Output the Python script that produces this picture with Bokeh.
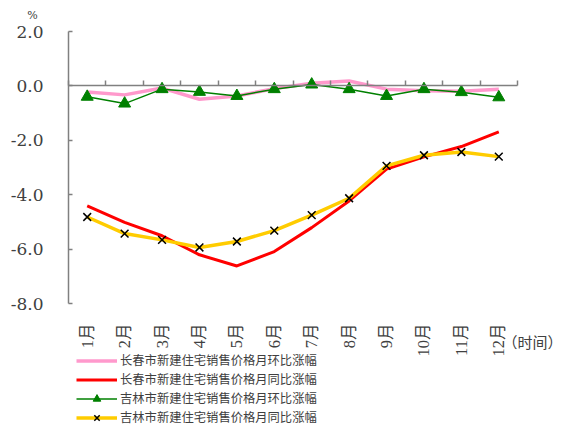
import math
from bokeh.plotting import figure
from bokeh.models import Range1d, LinearAxis, FixedTicker, Legend, LegendItem, Label
from bokeh.embed import file_html
from bokeh.resources import INLINE

months = ["1月", "2月", "3月", "4月", "5月", "6月", "7月", "8月", "9月", "10月", "11月", "12月"]
cc_mom = [-0.22, -0.33, -0.08, -0.49, -0.37, -0.10, 0.10, 0.18, -0.12, -0.18, -0.20, -0.12]
cc_yoy = [-4.41, -5.02, -5.51, -6.21, -6.62, -6.09, -5.21, -4.23, -3.06, -2.61, -2.23, -1.69]
jl_mom = [-0.40, -0.65, -0.12, -0.22, -0.37, -0.12, 0.05, -0.12, -0.37, -0.12, -0.23, -0.42]
jl_yoy = [-4.82, -5.43, -5.66, -5.94, -5.72, -5.32, -4.75, -4.13, -2.94, -2.55, -2.43, -2.60]
y_ticks = [2, 0, -2, -4, -6, -8]
y_labels = ["2.0", "0.0", "-2.0", "-4.0", "-6.0", "-8.0"]
series_names = ["长春市新建住宅销售价格月环比涨幅", "长春市新建住宅销售价格月同比涨幅",
                "吉林市新建住宅销售价格月环比涨幅", "吉林市新建住宅销售价格月同比涨幅"]

x = [i + 0.5 for i in range(len(months))]
TXT = "#404040"
AX = "#808080"

W, H = 563, 425
PX_X = 449 / 12.0   # pixels per month
PX_Y = 272 / 10.0   # pixels per percentage point
x_range = Range1d(-68 / PX_X, 12 + 46 / PX_X)
y_range = Range1d(-8 - 122 / PX_Y, 2 + 31 / PX_Y)

p = figure(width=W, height=H, x_range=x_range, y_range=y_range,
           output_backend="svg", toolbar_location=None,
           x_axis_location=None, y_axis_location=None,
           min_border=0, min_border_left=0, min_border_right=0,
           min_border_top=0, min_border_bottom=0)
p.grid.visible = False
p.outline_line_color = None
p.background_fill_color = "white"
p.border_fill_color = "white"

# y axis
ya = LinearAxis(fixed_location=0, bounds=(-8, 2), ticker=FixedTicker(ticks=y_ticks))
ya.major_label_overrides = {t: l for t, l in zip(y_ticks, y_labels)}
ya.major_tick_in = 4
ya.major_tick_out = 0
ya.minor_tick_line_color = None
ya.axis_line_color = AX
ya.axis_line_width = 1.5
ya.major_tick_line_color = AX
ya.major_tick_line_width = 1.5
ya.major_label_standoff = 25
ya.major_label_text_font = "DejaVu Serif"
ya.major_label_text_font_size = "17px"
ya.major_label_text_color = TXT
p.add_layout(ya, "left")

# zero-line axis with category boundary ticks (no labels)
za = LinearAxis(fixed_location=0, bounds=(0, 12), ticker=FixedTicker(ticks=list(range(13))))
za.major_tick_in = 5
za.major_tick_out = 0
za.minor_tick_line_color = None
za.axis_line_color = AX
za.axis_line_width = 1.5
za.major_tick_line_color = AX
za.major_tick_line_width = 1.5
za.major_label_text_color = None
za.major_label_standoff = 0
p.add_layout(za, "below")

# month labels axis under the plot
xa = LinearAxis(fixed_location=-8, ticker=FixedTicker(ticks=x))
xa.major_label_overrides = {t: m for t, m in zip(x, months)}
xa.axis_line_color = None
xa.major_tick_line_color = None
xa.minor_tick_line_color = None
xa.major_tick_in = 0
xa.major_tick_out = 0
xa.major_label_orientation = math.pi / 2
xa.major_label_standoff = 20
xa.major_label_text_font = "Liberation Serif, Noto Sans CJK SC"
xa.major_label_text_font_size = "16.5px"
xa.major_label_text_color = TXT
p.add_layout(xa, "below")

r1 = p.line(x, cc_mom, line_color="#FF99CC", line_width=3.5)
r2 = p.line(x, cc_yoy, line_color="#FF0000", line_width=3)
r3 = p.line(x, jl_mom, line_color="#008000", line_width=1.5)
r3m = p.scatter(x, jl_mom, marker="triangle", size=12, fill_color="#008000", line_color="#008000")
r4 = p.line(x, jl_yoy, line_color="#FFCC00", line_width=3.5)
r4m = p.scatter(x, jl_yoy, marker="x", size=11, line_color="black", line_width=1.5)

legend = Legend(items=[LegendItem(label=series_names[0], renderers=[r1]),
                       LegendItem(label=series_names[1], renderers=[r2]),
                       LegendItem(label=series_names[2], renderers=[r3, r3m]),
                       LegendItem(label=series_names[3], renderers=[r4, r4m])],
                location=(76, -1.5), orientation="vertical",
                glyph_width=41, glyph_height=19, label_height=19, spacing=0,
                padding=0, margin=0, label_standoff=3,
                label_text_font="Noto Sans CJK SC", label_text_font_size="12.3px",
                label_text_color=TXT, border_line_alpha=0, background_fill_alpha=0)
p.add_layout(legend)

p.add_layout(Label(x=-36 / PX_X, y=2 + 16 / PX_Y, text="%", text_align="center",
                   text_baseline="middle", text_font="DejaVu Serif",
                   text_font_size="11px", text_color=TXT))
p.add_layout(Label(x=(502 - 68) / PX_X, y=-8 - 38 / PX_Y, text="（时间）", text_align="left",
                   text_baseline="middle", text_font="Noto Sans CJK SC",
                   text_font_size="15px", text_color=TXT))

open("out.html", "w").write(file_html(p, INLINE))
